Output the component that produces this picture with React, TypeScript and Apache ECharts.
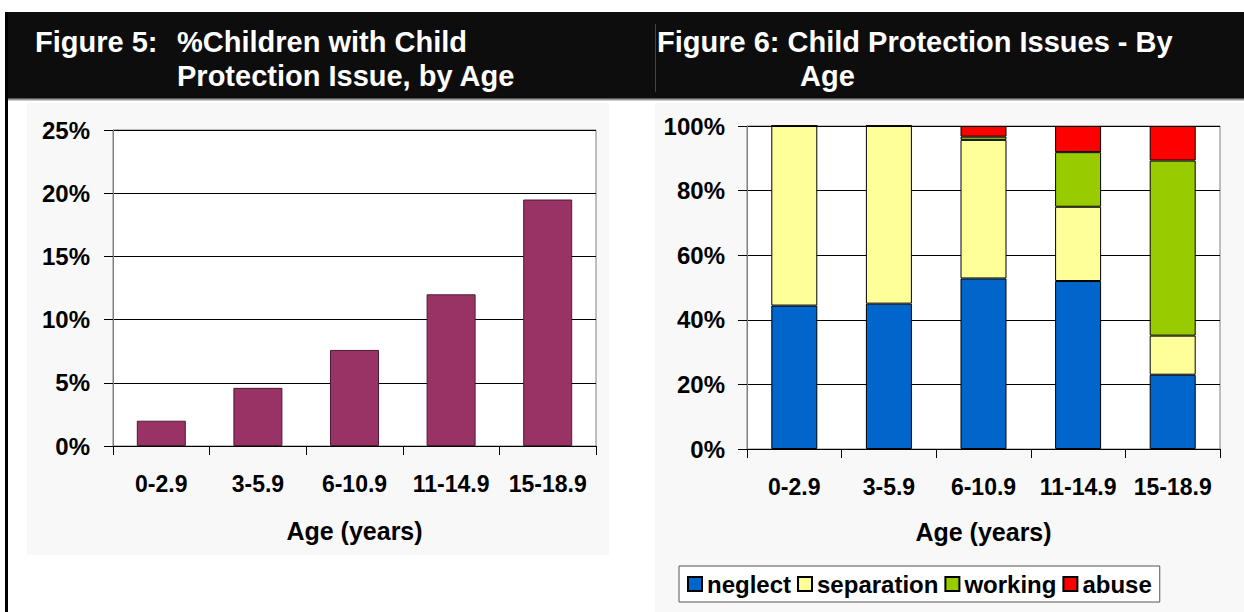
import React, { useEffect, useRef } from "react";
import * as echarts from "echarts";

const ageGroups = ["0-2.9", "3-5.9", "6-10.9", "11-14.9", "15-18.9"];
const pctWithIssue = [2.0, 4.6, 7.6, 12.0, 19.5];
const neglect = [44.4, 45.0, 52.8, 52.0, 23.0];
const separation = [55.6, 55.0, 42.9, 23.0, 12.1];
const working = [0, 0, 1.0, 16.9, 54.2];
const abuse = [0, 0, 3.3, 8.1, 10.7];
const issueNames = ["neglect", "separation", "working", "abuse"];
const issueColors = ["#0066CC", "#FFFF99", "#99CC00", "#FF0000"];
const title5Lead = "Figure 5:";
const title5Line1 = "%Children with Child";
const title5Line2 = "Protection Issue, by Age";
const title6Line1 = "Figure 6: Child Protection Issues - By";
const title6Line2 = "Age";
const xName = "Age (years)";

const FONT = 'Arial, "Liberation Sans", sans-serif';

export default function App() {
  const ref = useRef<HTMLDivElement>(null);
  useEffect(() => {
    if (!ref.current) return;
    const chart = echarts.init(ref.current, null, { renderer: "svg" });
    const axisLabelStyle = { fontFamily: FONT, fontWeight: "bold", fontSize: 23, color: "#000" };
    const issueData = [neglect, separation, working, abuse];
    const headerFont = `bold 29px ${FONT}`;
    chart.setOption({
      animation: false,
      backgroundColor: "#ffffff",
      textStyle: { fontFamily: FONT },
      graphic: [
        { type: "rect", z: -10, shape: { x: 27, y: 103, width: 582, height: 452 }, style: { fill: "#f8f8f8" } },
        { type: "rect", z: -10, shape: { x: 655, y: 103, width: 589, height: 509 }, style: { fill: "#f8f8f8" } },
        { type: "rect", z: -5, shape: { x: 5, y: 12, width: 1239, height: 87 }, style: { fill: "#0d0d0d" } },
        { type: "line", z: -5, shape: { x1: 5, y1: 99.5, x2: 1244, y2: 99.5 }, style: { stroke: "#9a9a9a", lineWidth: 2 } },
        { type: "rect", z: -5, shape: { x: 5, y: 12, width: 3, height: 600 }, style: { fill: "#000" } },
        { type: "line", z: -4, shape: { x1: 655.5, y1: 24, x2: 655.5, y2: 92 }, style: { stroke: "#444", lineWidth: 1 } },
        { type: "text", z: 10, x: 35, y: 42, style: { text: title5Lead, fill: "#fff", font: headerFont, textVerticalAlign: "middle" } },
        { type: "text", z: 10, x: 177, y: 42, style: { text: title5Line1, fill: "#fff", font: headerFont, textVerticalAlign: "middle" } },
        { type: "text", z: 10, x: 177, y: 76, style: { text: title5Line2, fill: "#fff", font: headerFont, textVerticalAlign: "middle" } },
        { type: "text", z: 10, x: 657, y: 42, style: { text: title6Line1, fill: "#fff", font: headerFont, textVerticalAlign: "middle" } },
        { type: "text", z: 10, x: 800, y: 76, style: { text: title6Line2, fill: "#fff", font: headerFont, textVerticalAlign: "middle" } },
      ],
      grid: [
        { left: 113, top: 130, width: 483, height: 316, show: true, backgroundColor: "#ffffff", borderColor: "#808080", borderWidth: 1 },
        { left: 747, top: 126, width: 473, height: 323, show: true, backgroundColor: "#ffffff", borderColor: "#808080", borderWidth: 1 },
      ],
      xAxis: [0, 1].map((i) => ({
        type: "category",
        gridIndex: i,
        data: ageGroups,
        axisLine: { lineStyle: { color: "#000", width: 1 } },
        axisTick: { show: true, length: 9, lineStyle: { color: "#000" } },
        axisLabel: { ...axisLabelStyle, margin: 26, interval: 0, hideOverlap: false },
        name: xName,
        nameLocation: "middle",
        nameGap: i === 0 ? 72 : 70,
        nameTextStyle: { fontFamily: FONT, fontWeight: "bold", fontSize: 25, color: "#000" },
      })),
      yAxis: [
        {
          type: "value",
          gridIndex: 0,
          min: 0,
          max: 25,
          interval: 5,
          axisLine: { show: true, lineStyle: { color: "#808080" } },
          axisTick: { show: true, length: 9, lineStyle: { color: "#000" } },
          splitLine: { lineStyle: { color: "#000", width: 1 } },
          axisLabel: { ...axisLabelStyle, fontSize: 24, margin: 23, formatter: "{value}%" },
        },
        {
          type: "value",
          gridIndex: 1,
          min: 0,
          max: 100,
          interval: 20,
          axisLine: { show: true, lineStyle: { color: "#808080" } },
          axisTick: { show: true, length: 9, lineStyle: { color: "#000" } },
          splitLine: { lineStyle: { color: "#000", width: 1 } },
          axisLabel: { ...axisLabelStyle, fontSize: 24, margin: 22, formatter: "{value}%" },
        },
      ],
      legend: {
        show: true,
        data: issueNames,
        left: 679,
        top: 566,
        orient: "horizontal",
        padding: [6, 8],
        itemWidth: 14,
        itemHeight: 14,
        itemGap: 6,
        icon: "rect",
        backgroundColor: "#ffffff",
        borderColor: "#555",
        borderWidth: 1,
        borderRadius: 0,
        textStyle: { fontFamily: FONT, fontWeight: "bold", fontSize: 24, color: "#000" },
      },
      series: [
        {
          type: "bar",
          name: "% children with child protection issue",
          xAxisIndex: 0,
          yAxisIndex: 0,
          data: pctWithIssue,
          barWidth: 49,
          itemStyle: { color: "#993366", borderColor: "#4d1a33", borderWidth: 1 },
        },
        ...issueNames.map((n, k) => ({
          type: "bar",
          name: n,
          xAxisIndex: 1,
          yAxisIndex: 1,
          stack: "issues",
          data: issueData[k],
          barWidth: 46,
          itemStyle: { color: issueColors[k], borderColor: "#000", borderWidth: 1 },
        })),
      ],
    });
    return () => chart.dispose();
  }, []);
  return <div ref={ref} style={{ position: "absolute", left: 0, top: 0, width: 1244, height: 612 }} />;
}
